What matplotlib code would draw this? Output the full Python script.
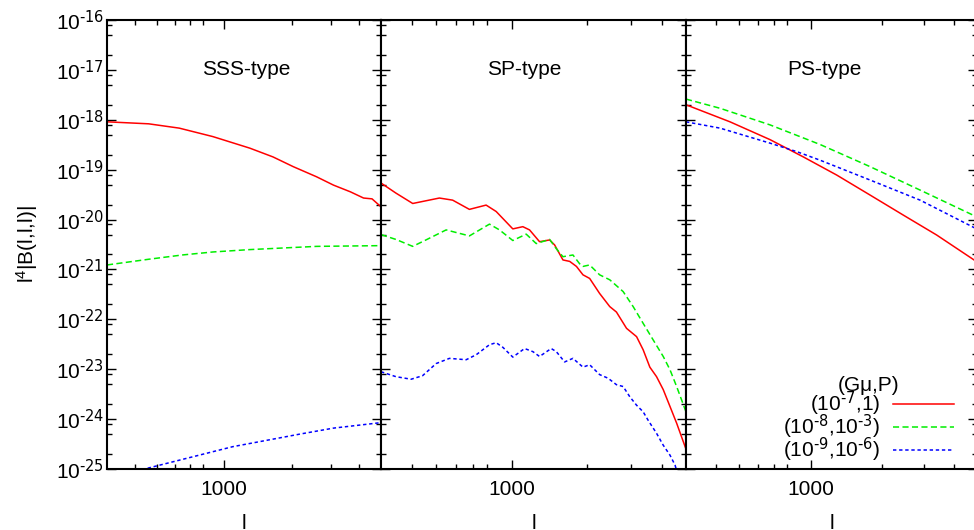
# Bispectrum of cosmic (super)strings: SSS / SP / PS contributions
import numpy as np
import matplotlib
matplotlib.use('Agg')
import matplotlib.pyplot as plt
from matplotlib.ticker import FixedLocator, FuncFormatter, NullFormatter

plt.rcParams['font.family'] = 'Liberation Sans'
plt.rcParams['mathtext.default'] = 'regular'

# ── Data ──────────────────────────────────────────────────────────────────────
series_labels = [r'(10$^{\text{-7}}$,1)', r'(10$^{\text{-8}}$,10$^{\text{-3}}$)',
                 r'(10$^{\text{-9}}$,10$^{\text{-6}}$)']
panel_titles = ['SSS-type', 'SP-type', 'PS-type']

# SSS-type
sss_red_l = [300, 460, 630, 890, 1300, 1650, 2030, 2580, 3070, 3650, 4180, 4560, 5000]
sss_red_b = [9.1e-19, 8.3e-19, 6.8e-19, 4.6e-19, 2.7e-19, 1.8e-19, 1.15e-19, 7.2e-20,
             4.9e-20, 3.6e-20, 2.7e-20, 2.6e-20, 1.8e-20]
sss_green_l = [300, 460, 650, 890, 1300, 2580, 5000]
sss_green_b = [1.23e-21, 1.6e-21, 1.95e-21, 2.24e-21, 2.5e-21, 2.9e-21, 3.0e-21]
sss_blue_l = [300, 460, 1090, 2170, 3070, 5000]
sss_blue_b = [5.6e-26, 1.05e-25, 2.8e-25, 5.0e-25, 6.6e-25, 8.5e-25]

# SP-type
sp_red_l = [300, 344, 402, 514, 581, 678, 791, 868, 1012, 1110, 1181, 1295, 1421, 1488,
            1607, 1710, 1820, 1933, 2056, 2254, 2475, 2632, 2889, 3169, 3368, 3582,
            3810, 4053, 4312, 4586, 5000]
sp_red_b = [5.4e-20, 3.4e-20, 2.1e-20, 2.7e-20, 2.45e-20, 1.6e-20, 1.95e-20, 1.45e-20,
            6.5e-21, 7.2e-21, 6.2e-21, 3.6e-21, 3.9e-21, 3.1e-21, 1.55e-21, 1.45e-21,
            1.15e-21, 7.8e-22, 6.6e-22, 3.3e-22, 1.8e-22, 1.4e-22, 6.6e-23, 4.5e-23,
            2.45e-23, 1.1e-23, 7.1e-24, 3.9e-24, 1.8e-24, 8.3e-25, 2.5e-25]
sp_green_l = [300, 344, 402, 454, 547, 678, 816, 895, 1012, 1145, 1256, 1421, 1512,
              1607, 1762, 1874, 1933, 2056, 2254, 2475, 2800, 3071, 3368, 3690, 4053,
              4312, 4586, 5000]
sp_green_b = [5.0e-21, 4.0e-21, 2.9e-21, 3.9e-21, 6.2e-21, 4.7e-21, 8.1e-21, 6.2e-21,
              3.8e-21, 5.1e-21, 3.3e-21, 4.0e-21, 2.6e-21, 1.8e-21, 1.95e-21, 1.3e-21,
              1.15e-21, 1.23e-21, 7.8e-22, 6.2e-22, 3.6e-22, 1.8e-22, 8.3e-23, 3.9e-23,
              1.8e-23, 9.8e-24, 4.5e-24, 1.4e-24]
sp_blue_l = [300, 344, 396, 440, 499, 564, 658, 722, 816, 868, 923, 1012, 1128, 1218,
             1295, 1442, 1512, 1632, 1762, 1933, 2056, 2254, 2437, 2632, 2800, 2978,
             3169, 3368, 3525, 3810, 4053, 4312, 4519, 4750]
sp_blue_b = [8.9e-24, 7.1e-24, 6.3e-24, 7.4e-24, 1.3e-23, 1.65e-23, 1.55e-23, 1.95e-23,
             3.1e-23, 3.4e-23, 2.75e-23, 1.75e-23, 2.6e-23, 2.25e-23, 1.8e-23, 2.6e-23,
             2.25e-23, 1.4e-23, 1.65e-23, 1.1e-23, 1.23e-23, 7.8e-24, 6.6e-24, 4.9e-24,
             4.5e-24, 2.8e-24, 1.9e-24, 1.4e-24, 9.5e-25, 5.2e-25, 3.0e-25, 1.9e-25,
             1.2e-25, 5.0e-26]

# PS-type
ps_red_l = [300, 459, 676, 933, 1288, 1778, 2451, 3385, 4860, 5000]
ps_red_b = [2.0e-18, 9.1e-19, 4.0e-19, 1.8e-19, 7.8e-20, 3.1e-20, 1.23e-20, 4.9e-21,
            1.55e-21, 1.4e-21]
ps_green_l = [300, 417, 676, 1096, 1778, 2884, 4860, 5000]
ps_green_b = [2.6e-18, 1.7e-18, 7.9e-19, 3.2e-19, 1.15e-19, 3.9e-20, 1.2e-20, 1.1e-20]
ps_blue_l = [300, 417, 676, 875, 1096, 1778, 2884, 4860, 5000]
ps_blue_b = [9.1e-19, 6.8e-19, 3.4e-19, 2.3e-19, 1.55e-19, 6.2e-20, 2.45e-20, 6.9e-21,
             6.3e-21]

panels = [
    [(sss_red_l, sss_red_b), (sss_green_l, sss_green_b), (sss_blue_l, sss_blue_b)],
    [(sp_red_l, sp_red_b), (sp_green_l, sp_green_b), (sp_blue_l, sp_blue_b)],
    [(ps_red_l, ps_red_b), (ps_green_l, ps_green_b), (ps_blue_l, ps_blue_b)],
]

# ── Styles ────────────────────────────────────────────────────────────────────
COLORS = ['#ff0000', '#00ee00', '#0000ff']
STYLES = ['-', (0, (4, 2.2)), (0, (2.2, 1.8))]
FS = 15

W, H = 974, 530
# panel pixel edges (left, right), common top/bottom
edges = [(107, 381), (381, 686), (686, 977)]
top, bottom = 20, 469

fig = plt.figure(figsize=(W / 100, H / 100), dpi=100)

for i, (x0, x1) in enumerate(edges):
    ax = fig.add_axes([x0 / W, 1 - bottom / H, (x1 - x0) / W, (bottom - top) / H])
    for (l, b), c, ls, lab in zip(panels[i], COLORS, STYLES, series_labels):
        ax.plot(l, b, color=c, linestyle=ls, linewidth=1.1, label=lab)

    ax.set_xscale('log')
    ax.set_yscale('log')
    ax.set_xlim(300, 5000)
    ax.set_ylim(1e-25, 1e-16)

    ax.xaxis.set_major_locator(FixedLocator([1000]))
    ax.xaxis.set_minor_locator(FixedLocator([400, 500, 600, 700, 800, 2000, 3000, 4000]))
    ax.xaxis.set_major_formatter(FuncFormatter(lambda v, p: f'{v:.0f}'))
    ax.xaxis.set_minor_formatter(NullFormatter())

    decades = np.arange(-25, -15)
    ax.yaxis.set_major_locator(FixedLocator(10.0 ** decades))
    ax.yaxis.set_minor_locator(FixedLocator([m * 10.0 ** d for d in decades[:-1] for m in (2, 5, 8)]))
    ax.yaxis.set_minor_formatter(NullFormatter())
    if i == 0:
        ax.yaxis.set_major_formatter(
            FuncFormatter(lambda v, p: r'10$^{\text{%d}}$' % int(round(np.log10(v)))))
    else:
        ax.yaxis.set_major_formatter(NullFormatter())

    ax.tick_params(which='both', direction='in', top=True, right=True,
                   labelsize=FS, width=1.0, color='black')
    ax.tick_params(which='major', length=6.5)
    ax.tick_params(which='minor', length=3.6)
    ax.tick_params(axis='x', pad=8)
    ax.tick_params(axis='y', pad=2)
    for sp in ax.spines.values():
        sp.set_linewidth(1.5)

    ax.set_xlabel('l', fontsize=FS)
    ax.xaxis.set_label_coords(0.5, -0.1)
    ax.text(800, 1e-17, panel_titles[i], ha='left', va='center', fontsize=FS)

    if i == 2:
        ax.legend(title='(G\u03bc,P)', loc='lower right', bbox_to_anchor=(0.92, 0.012),
                  frameon=False, markerfirst=False, fontsize=FS, title_fontsize=FS,
                  handlelength=2.9, handletextpad=0.6, labelspacing=-0.27,
                  borderpad=0, borderaxespad=0)

fig.text(27 / W, 1 - (top + bottom) / 2 / H, r'l$^4$|B(l,l,l)|', rotation=90,
         ha='center', va='center', fontsize=FS)

fig.savefig('out.png', dpi=100)
